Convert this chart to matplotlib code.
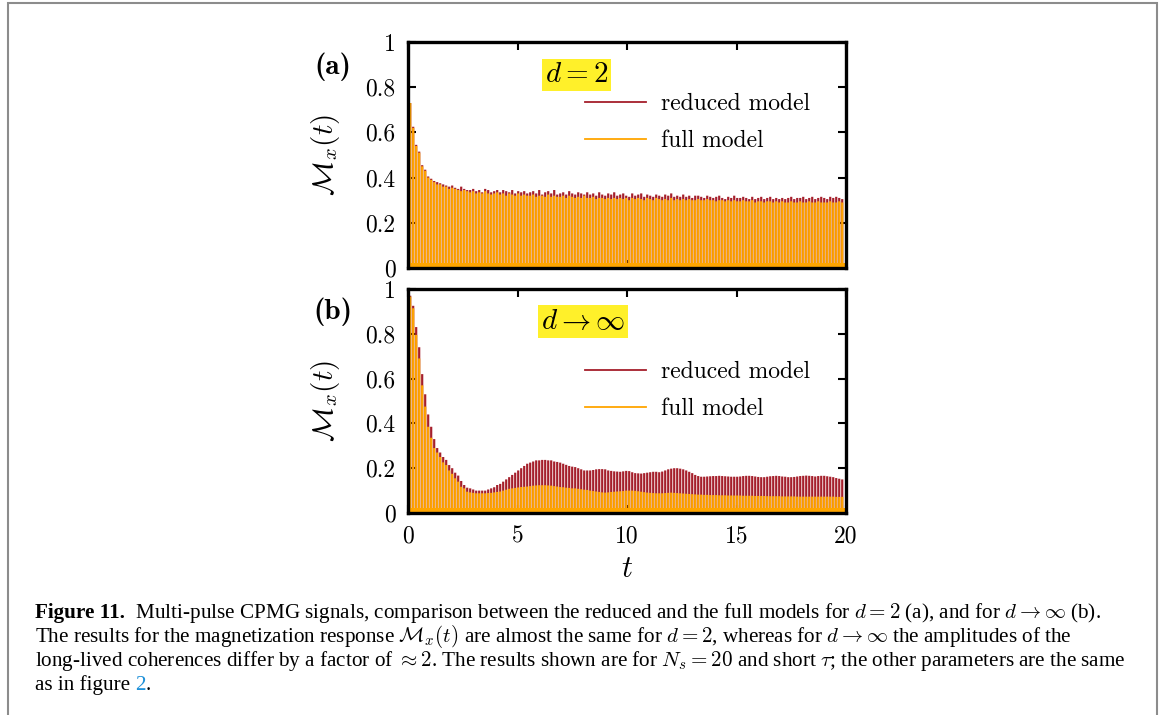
import numpy as np
import matplotlib
matplotlib.use("Agg")
import matplotlib.pyplot as plt
from matplotlib.lines import Line2D
from matplotlib.patches import Rectangle

plt.rcParams['mathtext.fontset'] = 'cm'
plt.rcParams['font.family'] = ['cmr10', 'DejaVu Serif']
plt.rcParams['axes.formatter.use_mathtext'] = True

# --- DATA: echo peak heights ---
n_echo = 145
t_echo = 0.1 + 0.137 * np.arange(n_echo)   # echo times

# panel (a), d = 2
a_reduced = [
    0.73, 0.625, 0.545, 0.515, 0.455, 0.435, 0.405, 0.395, 0.385, 0.38,
    0.375, 0.37, 0.365, 0.36, 0.365, 0.355, 0.35, 0.36, 0.35, 0.345,
    0.345, 0.35, 0.34, 0.345, 0.335, 0.35, 0.345, 0.335, 0.34, 0.345,
    0.335, 0.345, 0.34, 0.335, 0.345, 0.33, 0.34, 0.335, 0.34, 0.33,
    0.335, 0.34, 0.33, 0.345, 0.325, 0.335, 0.34, 0.33, 0.345, 0.325,
    0.33, 0.335, 0.325, 0.34, 0.33, 0.325, 0.335, 0.33, 0.325, 0.335,
    0.325, 0.33, 0.32, 0.335, 0.325, 0.32, 0.33, 0.325, 0.335, 0.32,
    0.325, 0.33, 0.32, 0.315, 0.33, 0.32, 0.325, 0.33, 0.315, 0.325,
    0.32, 0.315, 0.325, 0.32, 0.315, 0.325, 0.32, 0.33, 0.315, 0.32,
    0.315, 0.325, 0.315, 0.32, 0.31, 0.32, 0.32, 0.315, 0.31, 0.32,
    0.315, 0.31, 0.315, 0.32, 0.31, 0.305, 0.315, 0.31, 0.32, 0.31,
    0.31, 0.315, 0.31, 0.305, 0.315, 0.305, 0.31, 0.315, 0.305, 0.31,
    0.315, 0.305, 0.31, 0.305, 0.31, 0.305, 0.31, 0.315, 0.305, 0.31,
    0.31, 0.315, 0.305, 0.31, 0.315, 0.305, 0.31, 0.315, 0.31, 0.305,
    0.315, 0.31, 0.315, 0.31, 0.305,
]
a_full = [
    0.73, 0.62, 0.54, 0.51, 0.45, 0.43, 0.40, 0.39, 0.38, 0.37,
    0.37, 0.36, 0.36, 0.35, 0.355, 0.35, 0.345, 0.34, 0.345, 0.34,
    0.335, 0.34, 0.33, 0.335, 0.33, 0.34, 0.33, 0.325, 0.33, 0.335,
    0.325, 0.33, 0.32, 0.33, 0.325, 0.32, 0.33, 0.32, 0.325, 0.32,
    0.32, 0.325, 0.315, 0.32, 0.32, 0.315, 0.325, 0.315, 0.32, 0.315,
    0.315, 0.32, 0.31, 0.32, 0.315, 0.31, 0.315, 0.31, 0.32, 0.31,
    0.31, 0.315, 0.305, 0.31, 0.31, 0.305, 0.31, 0.305, 0.31, 0.305,
    0.31, 0.305, 0.31, 0.30, 0.31, 0.305, 0.31, 0.305, 0.30, 0.31,
    0.305, 0.30, 0.31, 0.305, 0.30, 0.305, 0.30, 0.31, 0.30, 0.305,
    0.30, 0.305, 0.30, 0.305, 0.30, 0.30, 0.305, 0.30, 0.30, 0.305,
    0.30, 0.30, 0.295, 0.30, 0.30, 0.295, 0.30, 0.295, 0.30, 0.295,
    0.295, 0.30, 0.295, 0.295, 0.30, 0.29, 0.295, 0.295, 0.29, 0.295,
    0.295, 0.29, 0.295, 0.29, 0.295, 0.29, 0.29, 0.295, 0.29, 0.29,
    0.295, 0.29, 0.29, 0.295, 0.29, 0.29, 0.295, 0.29, 0.29, 0.29,
    0.295, 0.29, 0.29, 0.295, 0.29,
]

# panel (b), d -> infinity
b_reduced = [
    0.97, 0.925, 0.83, 0.74, 0.62, 0.53, 0.44, 0.385, 0.33, 0.29,
    0.27, 0.25, 0.237, 0.214, 0.20, 0.18, 0.167, 0.143, 0.125, 0.113,
    0.11, 0.105, 0.10, 0.10, 0.10, 0.10, 0.105, 0.11, 0.115, 0.125,
    0.13, 0.14, 0.15, 0.16, 0.17, 0.18, 0.19, 0.20, 0.21, 0.22,
    0.225, 0.23, 0.235, 0.235, 0.237, 0.237, 0.235, 0.235, 0.23, 0.228,
    0.225, 0.22, 0.215, 0.21, 0.207, 0.205, 0.20, 0.195, 0.19, 0.19,
    0.19, 0.192, 0.195, 0.196, 0.196, 0.195, 0.19, 0.188, 0.186, 0.185,
    0.184, 0.186, 0.188, 0.187, 0.182, 0.178, 0.177, 0.176, 0.178, 0.18,
    0.182, 0.184, 0.184, 0.182, 0.185, 0.19, 0.195, 0.198, 0.20, 0.20,
    0.198, 0.195, 0.19, 0.184, 0.178, 0.17, 0.165, 0.162, 0.162, 0.163,
    0.164, 0.165, 0.165, 0.166, 0.165, 0.164, 0.163, 0.162, 0.162, 0.162,
    0.163, 0.165, 0.166, 0.166, 0.165, 0.163, 0.161, 0.16, 0.16, 0.162,
    0.164, 0.165, 0.166, 0.165, 0.163, 0.162, 0.16, 0.16, 0.161, 0.163,
    0.165, 0.166, 0.167, 0.166, 0.165, 0.163, 0.165, 0.166, 0.166, 0.164,
    0.162, 0.16, 0.156, 0.153, 0.15,
]
b_full = [
    0.966, 0.914, 0.795, 0.69, 0.57, 0.475, 0.385, 0.336, 0.29, 0.27,
    0.25, 0.226, 0.214, 0.19, 0.175, 0.155, 0.14, 0.117, 0.11, 0.095,
    0.092, 0.09, 0.088, 0.088, 0.088, 0.088, 0.089, 0.09, 0.092, 0.094,
    0.096, 0.10, 0.104, 0.108, 0.11, 0.112, 0.114, 0.116, 0.117, 0.118,
    0.12, 0.122, 0.123, 0.124, 0.124, 0.124, 0.123, 0.122, 0.12, 0.118,
    0.116, 0.115, 0.113, 0.112, 0.11, 0.11, 0.108, 0.106, 0.104, 0.103,
    0.10, 0.098, 0.096, 0.094, 0.092, 0.091, 0.092, 0.094, 0.095, 0.096,
    0.097, 0.098, 0.10, 0.10, 0.10, 0.099, 0.097, 0.095, 0.093, 0.091,
    0.09, 0.089, 0.088, 0.088, 0.088, 0.089, 0.09, 0.091, 0.09, 0.089,
    0.088, 0.087, 0.086, 0.085, 0.084, 0.083, 0.082, 0.082, 0.081, 0.081,
    0.08, 0.08, 0.08, 0.079, 0.079, 0.079, 0.078, 0.078, 0.078, 0.078,
    0.078, 0.077, 0.077, 0.077, 0.077, 0.076, 0.076, 0.076, 0.076, 0.075,
    0.075, 0.075, 0.075, 0.075, 0.074, 0.074, 0.074, 0.074, 0.074, 0.073,
    0.073, 0.073, 0.073, 0.073, 0.073, 0.073, 0.073, 0.073, 0.073, 0.073,
    0.073, 0.073, 0.072, 0.072, 0.072,
]

y_ticks = [0, 0.2, 0.4, 0.6, 0.8, 1]
y_labels = ['0', '0.2', '0.4', '0.6', '0.8', '1']
x_ticks = [0, 5, 10, 15, 20]
x_labels = ['0', '5', '10', '15', '20']

RED = '#a51f2b'
ORANGE = '#ffa500'
YELLOW = '#fff02a'

W, H = 1165, 715
fig = plt.figure(figsize=(W / 100, H / 100), dpi=100)

def px_axes(x0, y0, x1, y1):
    return fig.add_axes([x0 / W, 1 - y1 / H, (x1 - x0) / W, (y1 - y0) / H])

ax_a = px_axes(408, 42, 846, 268)
ax_b = px_axes(408, 289, 846, 513)

# axes, reduced, full, tag, tag x (axes frac), legend top (axes frac)
panels = [
    (ax_a, a_reduced, a_full, r'$d = 2$', 0.384, 0.773),
    (ax_b, b_reduced, b_full, r'$d \to \infty$', 0.40, 0.677),
]

for ax, red, full, tag, tag_x, leg_y in panels:
    ax.bar(t_echo, red, width=0.1, color=RED, linewidth=0, snap=False, zorder=2)
    ax.bar(t_echo, full, width=0.1, color=ORANGE, linewidth=0, snap=False, zorder=3)
    ax.axhspan(0, 0.022, color=ORANGE, lw=0, zorder=3)
    ax.set_xlim(0, 20)
    ax.set_ylim(0, 1)
    ax.set_yticks(y_ticks, y_labels)
    ax.set_xticks(x_ticks, x_labels)
    ax.tick_params(direction='in', top=True, right=True, length=6, width=1.5,
                   labelsize=17, pad=9)
    for s in ax.spines.values():
        s.set_linewidth(2.4)
        s.set_zorder(5)
    ax.set_ylabel(r'$\mathcal{M}_x(t)$', fontsize=21, labelpad=17)
    ax.text(tag_x, 0.855, tag, transform=ax.transAxes, fontsize=21,
            ha='center', va='center', zorder=6,
            bbox=dict(facecolor=YELLOW, edgecolor='none', pad=2.0))
    handles = [Line2D([], [], color=RED, lw=1.3),
               Line2D([], [], color=ORANGE, lw=1.3)]
    ax.legend(handles, ['reduced model', 'full model'], loc='upper left',
              bbox_to_anchor=(0.405, leg_y), frameon=False, fontsize=17,
              handlelength=2.55, handletextpad=0.64, labelspacing=0.62,
              borderpad=0, borderaxespad=0)

ax_a.tick_params(labelbottom=False)
ax_b.set_xlabel(r'$t$', fontsize=22, labelpad=6)

fig.text(333 / W, 1 - 67 / H, '(a)', fontfamily='cmb10', fontsize=21,
         ha='center', va='center')
fig.text(333 / W, 1 - 312 / H, '(b)', fontfamily='cmb10', fontsize=21,
         ha='center', va='center')

# page frame
fig.patches.append(Rectangle((8 / W, -0.05), (1157 - 8) / W, 1.05 - 3 / H,
                             transform=fig.transFigure, fill=False,
                             edgecolor='#8c8c8c', lw=1.5))

# caption
cap_font = dict(fontfamily='Liberation Serif', fontsize=15.2, va='baseline')
renderer = fig.canvas.get_renderer()

def chain(x, y, parts):
    for txt, extra in parts:
        t = fig.text(x / W, 1 - y / H, txt, **cap_font, **extra)
        x = t.get_window_extent(renderer).x1

chain(35, 618, [('Figure 11.', dict(fontweight='bold')),
                (r'  Multi-pulse CPMG signals, comparison between the reduced and the '
                 r'full models for $d = 2$ (a), and for $d \to \infty$ (b).', {})])
fig.text(35 / W, 1 - 642 / H,
         r'The results for the magnetization response $\mathcal{M}_x(t)$ are almost '
         r'the same for $d = 2$, whereas for $d \to \infty$ the amplitudes of the',
         **cap_font)
fig.text(35 / W, 1 - 666 / H,
         r'long-lived coherences differ by a factor of $\approx 2$. The results shown '
         r'are for $N_s = 20$ and short $\tau$; the other parameters are the same',
         **cap_font)
chain(35, 690, [('as in figure ', {}), ('2', dict(color='#1e90d8')), ('.', {})])

fig.savefig('out.png', dpi=100)
